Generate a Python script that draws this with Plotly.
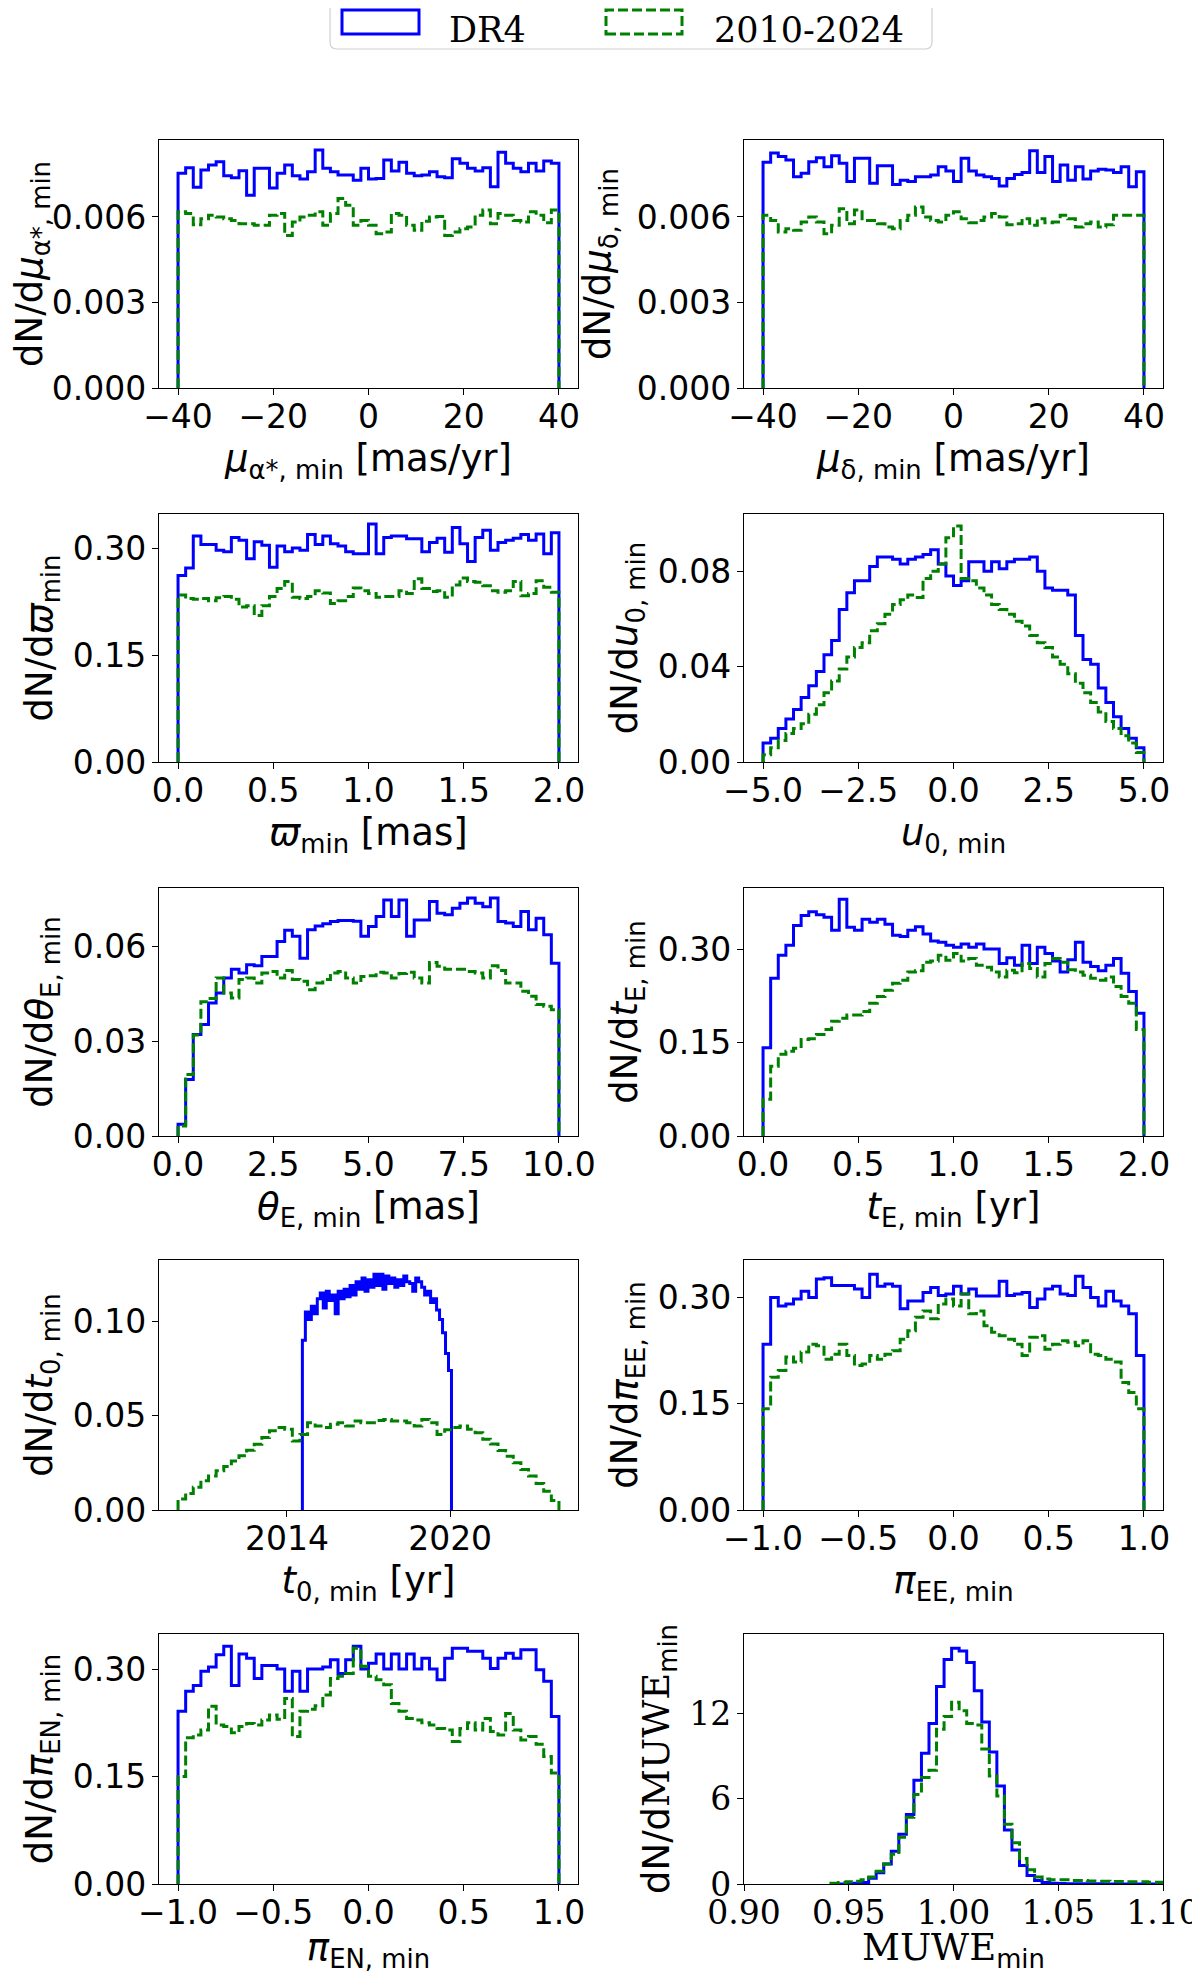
import numpy as np
import plotly.graph_objects as go

# --- histogram values (density per bin) ---
# DR4 = solid blue, 2010-2024 = dashed green

mu_ra_dr4 = [0.00753, 0.00773, 0.00704, 0.00765, 0.00782, 0.00794, 0.00745, 0.00738, 0.00762, 0.00676,
             0.00771, 0.00771, 0.00702, 0.00753, 0.00782, 0.00745, 0.00733, 0.00759, 0.00835, 0.00771,
             0.00759, 0.00747, 0.00747, 0.00729, 0.00771, 0.00733, 0.00735, 0.00800, 0.00761, 0.00792,
             0.00753, 0.00745, 0.00747, 0.00759, 0.00741, 0.00738, 0.00804, 0.00788, 0.00771, 0.00761,
             0.00773, 0.00706, 0.00827, 0.00788, 0.00771, 0.00759, 0.00788, 0.00761, 0.00796, 0.00788]
mu_ra_obs = [0.00618, 0.00612, 0.00573, 0.00594, 0.00606, 0.00600, 0.00594, 0.00588, 0.00576, 0.00576,
             0.00571, 0.00571, 0.00606, 0.00612, 0.00535, 0.00582, 0.00600, 0.00606, 0.00618, 0.00571,
             0.00612, 0.00665, 0.00641, 0.00571, 0.00588, 0.00571, 0.00541, 0.00547, 0.00612, 0.00606,
             0.00571, 0.00553, 0.00585, 0.00600, 0.00602, 0.00535, 0.00547, 0.00559, 0.00565, 0.00606,
             0.00624, 0.00576, 0.00612, 0.00606, 0.00588, 0.00582, 0.00618, 0.00606, 0.00580, 0.00624]

mu_dec_dr4 = [0.00792, 0.00824, 0.00812, 0.00800, 0.00741, 0.00753, 0.00794, 0.00808, 0.00776, 0.00815,
              0.00788, 0.00724, 0.00806, 0.00806, 0.00718, 0.00780, 0.00780, 0.00714, 0.00729, 0.00724,
              0.00741, 0.00741, 0.00747, 0.00776, 0.00761, 0.00724, 0.00806, 0.00761, 0.00747, 0.00741,
              0.00735, 0.00709, 0.00735, 0.00749, 0.00756, 0.00832, 0.00756, 0.00812, 0.00724, 0.00782,
              0.00729, 0.00776, 0.00733, 0.00761, 0.00767, 0.00765, 0.00756, 0.00776, 0.00706, 0.00759]
mu_dec_obs = [0.00606, 0.00588, 0.00547, 0.00559, 0.00553, 0.00582, 0.00600, 0.00582, 0.00541, 0.00571,
              0.00629, 0.00576, 0.00624, 0.00588, 0.00588, 0.00576, 0.00565, 0.00559, 0.00588, 0.00606,
              0.00635, 0.00600, 0.00588, 0.00582, 0.00606, 0.00618, 0.00594, 0.00580, 0.00588, 0.00600,
              0.00612, 0.00600, 0.00573, 0.00576, 0.00594, 0.00571, 0.00594, 0.00580, 0.00582, 0.00606,
              0.00594, 0.00565, 0.00576, 0.00582, 0.00565, 0.00573, 0.00606, 0.00606, 0.00606, 0.00606]

plx_dr4 = [0.2625, 0.273, 0.318, 0.306, 0.306, 0.298, 0.296, 0.316, 0.312, 0.286,
           0.310, 0.305, 0.274, 0.304, 0.296, 0.301, 0.298, 0.320, 0.306, 0.318,
           0.307, 0.304, 0.296, 0.293, 0.293, 0.335, 0.293, 0.316, 0.318, 0.318,
           0.314, 0.314, 0.296, 0.309, 0.315, 0.295, 0.330, 0.307, 0.282, 0.316,
           0.326, 0.298, 0.309, 0.312, 0.315, 0.320, 0.312, 0.321, 0.293, 0.3225]
plx_obs = [0.235, 0.230, 0.229, 0.230, 0.227, 0.231, 0.233, 0.229, 0.218, 0.220,
           0.206, 0.220, 0.233, 0.244, 0.254, 0.232, 0.230, 0.233, 0.241, 0.238,
           0.223, 0.227, 0.233, 0.245, 0.241, 0.237, 0.232, 0.233, 0.233, 0.241,
           0.237, 0.258, 0.244, 0.240, 0.241, 0.232, 0.249, 0.259, 0.254, 0.253,
           0.248, 0.241, 0.239, 0.241, 0.254, 0.234, 0.237, 0.255, 0.246, 0.239]

u0_dr4 = [0.008, 0.010, 0.014, 0.018, 0.022, 0.027, 0.032, 0.038, 0.045, 0.051,
          0.064, 0.071, 0.076, 0.076, 0.082, 0.086, 0.086, 0.085, 0.083, 0.085,
          0.086, 0.087, 0.089, 0.083, 0.078, 0.074, 0.076, 0.084, 0.084, 0.080,
          0.084, 0.081, 0.084, 0.085, 0.085, 0.086, 0.080, 0.073, 0.072, 0.072,
          0.070, 0.053, 0.043, 0.041, 0.031, 0.025, 0.019, 0.014, 0.010, 0.006]
u0_obs = [0.003, 0.006, 0.009, 0.012, 0.014, 0.016, 0.020, 0.024, 0.029, 0.034,
          0.039, 0.044, 0.048, 0.050, 0.055, 0.058, 0.062, 0.066, 0.068, 0.070,
          0.069, 0.077, 0.080, 0.083, 0.094, 0.099, 0.077, 0.076, 0.073, 0.070,
          0.066, 0.064, 0.062, 0.059, 0.057, 0.053, 0.050, 0.048, 0.044, 0.041,
          0.037, 0.033, 0.029, 0.025, 0.021, 0.017, 0.014, 0.011, 0.008, 0.004]

thetaE_dr4 = [0.0037, 0.0179, 0.0321, 0.0353, 0.0421, 0.0453, 0.0500, 0.0528, 0.0516, 0.0542,
              0.0539, 0.0568, 0.0568, 0.0616, 0.0651, 0.0632, 0.0563, 0.0653, 0.0665, 0.0672,
              0.0679, 0.0682, 0.0682, 0.0680, 0.0632, 0.0663, 0.0695, 0.0747, 0.0695, 0.0747,
              0.0632, 0.0684, 0.0684, 0.0742, 0.0705, 0.0700, 0.0721, 0.0737, 0.0753, 0.0737,
              0.0726, 0.0753, 0.0679, 0.0674, 0.0663, 0.0711, 0.0653, 0.0689, 0.0637, 0.0547]
thetaE_obs = [0.0032, 0.0195, 0.0320, 0.0425, 0.0435, 0.0500, 0.0453, 0.0437, 0.0495, 0.0500,
              0.0484, 0.0516, 0.0521, 0.0500, 0.0524, 0.0495, 0.0490, 0.0463, 0.0484, 0.0495,
              0.0516, 0.0521, 0.0500, 0.0484, 0.0505, 0.0507, 0.0518, 0.0516, 0.0500, 0.0514,
              0.0518, 0.0500, 0.0484, 0.0549, 0.0537, 0.0528, 0.0528, 0.0528, 0.0521, 0.0516,
              0.0500, 0.0539, 0.0524, 0.0484, 0.0484, 0.0458, 0.0442, 0.0416, 0.0411, 0.0400]

tE_dr4 = [0.1415, 0.253, 0.290, 0.306, 0.338, 0.354, 0.360, 0.355, 0.351, 0.330,
          0.380, 0.335, 0.330, 0.348, 0.343, 0.348, 0.340, 0.322, 0.320, 0.330,
          0.336, 0.324, 0.313, 0.311, 0.306, 0.303, 0.308, 0.303, 0.308, 0.300,
          0.300, 0.277, 0.286, 0.274, 0.306, 0.277, 0.303, 0.293, 0.281, 0.263,
          0.283, 0.311, 0.279, 0.272, 0.265, 0.274, 0.285, 0.261, 0.232, 0.197]
tE_obs = [0.059, 0.112, 0.131, 0.136, 0.141, 0.155, 0.156, 0.163, 0.171, 0.184,
          0.189, 0.194, 0.194, 0.200, 0.213, 0.224, 0.234, 0.245, 0.250, 0.263,
          0.265, 0.279, 0.281, 0.290, 0.282, 0.293, 0.281, 0.285, 0.274, 0.271,
          0.263, 0.255, 0.266, 0.262, 0.277, 0.269, 0.255, 0.277, 0.285, 0.279,
          0.267, 0.263, 0.258, 0.253, 0.250, 0.255, 0.240, 0.224, 0.213, 0.171]

t0_dr4 = [0.090, 0.105, 0.101, 0.108, 0.104, 0.112, 0.115, 0.107, 0.116, 0.111,
          0.114, 0.104, 0.116, 0.112, 0.117, 0.113, 0.119, 0.114, 0.121, 0.117,
          0.123, 0.116, 0.122, 0.118, 0.125, 0.119, 0.125, 0.117, 0.124, 0.120,
          0.123, 0.118, 0.122, 0.119, 0.124, 0.121, 0.120, 0.116, 0.123, 0.121,
          0.118, 0.114, 0.116, 0.110, 0.112, 0.106, 0.101, 0.094, 0.083, 0.074]
t0_obs = [0.0058, 0.0088, 0.0120, 0.0155, 0.0180, 0.0208, 0.0230, 0.0260, 0.0287, 0.0317,
          0.0348, 0.0384, 0.0420, 0.0437, 0.0428, 0.0366, 0.0400, 0.0463, 0.0445, 0.0437,
          0.0454, 0.0463, 0.0445, 0.0472, 0.0463, 0.0463, 0.0475, 0.0480, 0.0472, 0.0472,
          0.0463, 0.0445, 0.0480, 0.0463, 0.0400, 0.0425, 0.0437, 0.0445, 0.0428, 0.0410,
          0.0375, 0.0350, 0.0315, 0.0285, 0.0250, 0.0215, 0.0180, 0.0140, 0.0100, 0.0050]

piEE_dr4 = [0.234, 0.300, 0.288, 0.291, 0.298, 0.309, 0.300, 0.326, 0.328, 0.317,
            0.317, 0.317, 0.312, 0.300, 0.333, 0.316, 0.319, 0.316, 0.284, 0.295,
            0.295, 0.307, 0.314, 0.303, 0.305, 0.316, 0.305, 0.312, 0.302, 0.302,
            0.302, 0.323, 0.303, 0.305, 0.307, 0.286, 0.298, 0.312, 0.316, 0.305,
            0.303, 0.330, 0.314, 0.300, 0.288, 0.309, 0.295, 0.288, 0.277, 0.218]
piEE_obs = [0.143, 0.1875, 0.197, 0.216, 0.209, 0.223, 0.234, 0.232, 0.213, 0.220,
            0.234, 0.218, 0.204, 0.206, 0.218, 0.213, 0.220, 0.225, 0.241, 0.253,
            0.272, 0.281, 0.270, 0.291, 0.298, 0.288, 0.305, 0.277, 0.281, 0.260,
            0.251, 0.246, 0.241, 0.234, 0.218, 0.244, 0.246, 0.227, 0.234, 0.239,
            0.237, 0.232, 0.239, 0.220, 0.218, 0.213, 0.209, 0.180, 0.166, 0.143]

piEN_dr4 = [0.241, 0.269, 0.277, 0.297, 0.303, 0.320, 0.332, 0.277, 0.321, 0.315,
            0.287, 0.305, 0.305, 0.300, 0.269, 0.297, 0.269, 0.300, 0.300, 0.303,
            0.313, 0.294, 0.313, 0.332, 0.300, 0.308, 0.321, 0.300, 0.321, 0.300,
            0.321, 0.300, 0.315, 0.300, 0.285, 0.315, 0.329, 0.329, 0.325, 0.325,
            0.315, 0.301, 0.315, 0.322, 0.315, 0.327, 0.327, 0.299, 0.283, 0.234]
piEN_obs = [0.150, 0.204, 0.208, 0.215, 0.248, 0.222, 0.220, 0.211, 0.220, 0.224,
            0.222, 0.229, 0.236, 0.230, 0.259, 0.206, 0.241, 0.244, 0.249, 0.264,
            0.287, 0.290, 0.294, 0.329, 0.304, 0.290, 0.285, 0.278, 0.252, 0.241,
            0.231, 0.229, 0.225, 0.222, 0.217, 0.215, 0.199, 0.217, 0.225, 0.215,
            0.231, 0.213, 0.208, 0.238, 0.215, 0.201, 0.206, 0.195, 0.178, 0.155]

muwe_dr4 = [0, 0, 0, 0.05, 0.1, 0.4, 0.8, 1.4, 2.3, 3.5,
            4.9, 7.3, 9.2, 11.3, 13.9, 15.8, 16.6, 16.4, 15.6, 13.6,
            11.4, 9.3, 6.9, 3.8, 2.4, 1.3, 0.6, 0.25, 0.1, 0.05,
            0.03, 0.02, 0.02, 0.01, 0.01, 0.01, 0, 0, 0, 0,
            0, 0, 0, 0]
muwe_obs = [0.05, 0.1, 0.15, 0.2, 0.3, 0.5, 0.9, 1.4, 2.1, 3.3,
            4.7, 6.3, 7.5, 8.0, 10.9, 11.8, 12.8, 12.2, 11.3, 11.2,
            9.5, 7.6, 6.2, 4.2, 2.9, 1.8, 1.0, 0.5, 0.35, 0.3,
            0.3, 0.3, 0.25, 0.25, 0.22, 0.2, 0.2, 0.18, 0.18, 0.15,
            0.15, 0.15, 0.12, 0.12]

# bin limits (lo, hi) of each histogram
mu_bins = (-40, 40)
plx_bins = (0, 2)
u0_bins = (-5, 5)
thetaE_bins = (0, 10)
tE_bins = (0, 2)
t0_dr4_bins = (2014.57, 2020.05)
t0_obs_bins = (2010, 2024)
pi_bins = (-1, 1)
muwe_bins = (0.9415, 1.0999)

SANS = 'DejaVu Sans'
SERIF = 'DejaVu Serif'
MUWE = f'<span style="font-family:{SERIF}">MUWE</span>'

panels = [
    dict(dr4=(mu_bins, mu_ra_dr4), obs=(mu_bins, mu_ra_obs),
         xt='<i>μ</i><sub>α*, min</sub> [mas/yr]', yt='dN/d<i>μ</i><sub>α*, min</sub>',
         xr=[-44, 44], xtv=[-40, -20, 0, 20, 40], xf='d',
         yr=[0, 0.0087], ytv=[0, 0.003, 0.006], yf='.3f', ystand=14),
    dict(dr4=(mu_bins, mu_dec_dr4), obs=(mu_bins, mu_dec_obs),
         xt='<i>μ</i><sub>δ, min</sub> [mas/yr]', yt='dN/d<i>μ</i><sub>δ, min</sub>',
         xr=[-44, 44], xtv=[-40, -20, 0, 20, 40], xf='d',
         yr=[0, 0.0087], ytv=[0, 0.003, 0.006], yf='.3f', ystand=14),
    dict(dr4=(plx_bins, plx_dr4), obs=(plx_bins, plx_obs),
         xt='<i>ϖ</i><sub>min</sub> [mas]', yt='dN/d<i>ϖ</i><sub>min</sub>',
         xr=[-0.1, 2.1], xtv=[0, 0.5, 1, 1.5, 2], xf='.1f',
         yr=[0, 0.349], ytv=[0, 0.15, 0.30], yf='.2f'),
    dict(dr4=(u0_bins, u0_dr4), obs=(u0_bins, u0_obs),
         xt='<i>u</i><sub>0, min</sub>', yt='dN/d<i>u</i><sub>0, min</sub>',
         xr=[-5.5, 5.5], xtv=[-5, -2.5, 0, 2.5, 5], xf='.1f',
         yr=[0, 0.104], ytv=[0, 0.04, 0.08], yf='.2f'),
    dict(dr4=(thetaE_bins, thetaE_dr4), obs=(thetaE_bins, thetaE_obs),
         xt='<i>θ</i><sub>E, min</sub> [mas]', yt='dN/d<i>θ</i><sub>E, min</sub>',
         xr=[-0.5, 10.5], xtv=[0, 2.5, 5, 7.5, 10], xf='.1f',
         yr=[0, 0.0785], ytv=[0, 0.03, 0.06], yf='.2f'),
    dict(dr4=(tE_bins, tE_dr4), obs=(tE_bins, tE_obs),
         xt='<i>t</i><sub>E, min</sub> [yr]', yt='dN/d<i>t</i><sub>E, min</sub>',
         xr=[-0.1, 2.1], xtv=[0, 0.5, 1, 1.5, 2], xf='.1f',
         yr=[0, 0.398], ytv=[0, 0.15, 0.30], yf='.2f'),
    dict(dr4=(t0_dr4_bins, t0_dr4), obs=(t0_obs_bins, t0_obs),
         xt='<i>t</i><sub>0, min</sub> [yr]', yt='dN/d<i>t</i><sub>0, min</sub>',
         xr=[2009.3, 2024.7], xtv=[2014, 2020], xf='d',
         yr=[0, 0.1325], ytv=[0, 0.05, 0.10], yf='.2f'),
    dict(dr4=(pi_bins, piEE_dr4), obs=(pi_bins, piEE_obs),
         xt='<i>π</i><sub>EE, min</sub>', yt='dN/d<i>π</i><sub>EE, min</sub>',
         xr=[-1.1, 1.1], xtv=[-1, -0.5, 0, 0.5, 1], xf='.1f',
         yr=[0, 0.353], ytv=[0, 0.15, 0.30], yf='.2f'),
    dict(dr4=(pi_bins, piEN_dr4), obs=(pi_bins, piEN_obs),
         xt='<i>π</i><sub>EN, min</sub>', yt='dN/d<i>π</i><sub>EN, min</sub>',
         xr=[-1.1, 1.1], xtv=[-1, -0.5, 0, 0.5, 1], xf='.1f',
         yr=[0, 0.349], ytv=[0, 0.15, 0.30], yf='.2f'),
    dict(dr4=(muwe_bins, muwe_dr4), obs=(muwe_bins, muwe_obs),
         xt=MUWE + '<sub>min</sub>', yt='dN/d' + MUWE + '<sub>min</sub>',
         xr=[0.9, 1.1], xtv=[0.9, 0.95, 1.0, 1.05, 1.1], xf='.2f',
         yr=[0, 17.6], ytv=[0, 6, 12], yf='d', tickfamily=SERIF),
]

# the page body adds an 8px margin, so the figure is placed in page pixels minus that
PAD = 8
W, H = 1200 - PAD, 1974 - PAD


def px(x):
    return (x - PAD) / W


def py(y):
    return 1 - (y - PAD) / H


col_px = [(159, 578), (744, 1163)]
row_px = [(140, 388), (514, 762), (888, 1136), (1260, 1510), (1634, 1884)]
col_dom = [[px(a), px(b)] for a, b in col_px]
row_dom = [[py(b), py(a)] for a, b in row_px]


def step_xy(bins, vals):
    # matplotlib histtype='step' outline
    edges = np.linspace(bins[0], bins[1], len(vals) + 1)
    x = [edges[0]] + list(edges[:-1]) + [edges[-1]]
    y = [0] + list(vals) + [0]
    return x, y


fig = go.Figure()
axis_common = dict(showline=True, linecolor='black', linewidth=1.3, mirror=True,
                   ticks='outside', ticklen=6, tickwidth=1.3, tickcolor='black',
                   showgrid=False, zeroline=False, automargin=False)
title_font = dict(family=SANS, size=37, color='black')

for i, p in enumerate(panels):
    n = '' if i == 0 else str(i + 1)
    for key, color, dash in [('dr4', 'blue', 'solid'), ('obs', 'green', '10px,4px')]:
        x, y = step_xy(*p[key])
        fig.add_trace(go.Scatter(x=x, y=y, mode='lines', line_shape='hv',
                                 line=dict(color=color, width=3, dash=dash),
                                 xaxis='x' + n, yaxis='y' + n, showlegend=False))
    r, c = divmod(i, 2)
    tick_font = dict(family=p.get('tickfamily', SANS), size=33, color='black')
    fig.layout['xaxis' + n] = dict(axis_common, domain=col_dom[c], anchor='y' + n,
                                   range=p['xr'], tickvals=p['xtv'], tickformat=p['xf'],
                                   tickfont=tick_font, ticklabelstandoff=-7,
                                   title=dict(text=p['xt'], standoff=10, font=title_font))
    fig.layout['yaxis' + n] = dict(axis_common, domain=row_dom[r], anchor='x' + n,
                                   range=p['yr'], tickvals=p['ytv'], tickformat=p['yf'],
                                   tickfont=tick_font, ticklabelstandoff=-1,
                                   title=dict(text=p['yt'], standoff=p.get('ystand', 8),
                                              font=title_font))

# legend drawn as a matplotlib-style box with patch handles (top runs off the page)
bx0, bx1, by1, r = px(330), px(932), py(49), 7
fig.add_shape(type='path', xref='paper', yref='paper',
              path=(f'M {bx0},{py(-20)} L {bx0},{py(49 - r)} Q {bx0},{by1} {px(330 + r)},{by1} '
                    f'L {px(932 - r)},{by1} Q {bx1},{by1} {bx1},{py(49 - r)} L {bx1},{py(-20)} Z'),
              line=dict(color='#d0d0d0', width=1.2), fillcolor='white')
fig.add_shape(type='rect', xref='paper', yref='paper',
              x0=px(342), x1=px(419), y0=py(34), y1=py(10),
              line=dict(color='blue', width=3))
fig.add_shape(type='rect', xref='paper', yref='paper',
              x0=px(606), x1=px(682), y0=py(34), y1=py(10),
              line=dict(color='green', width=3, dash='10px,4px'))
for text, x in [('DR4', 447), ('2010-2024', 712)]:
    fig.add_annotation(text=text, xref='paper', yref='paper', x=px(x), y=py(30),
                       xanchor='left', yanchor='middle', showarrow=False,
                       font=dict(family=SERIF, size=35, color='black'))

fig.update_layout(width=W, height=H, margin=dict(l=0, r=0, t=0, b=0),
                  plot_bgcolor='white', paper_bgcolor='white', showlegend=False)

fig.write_html('out.html')
